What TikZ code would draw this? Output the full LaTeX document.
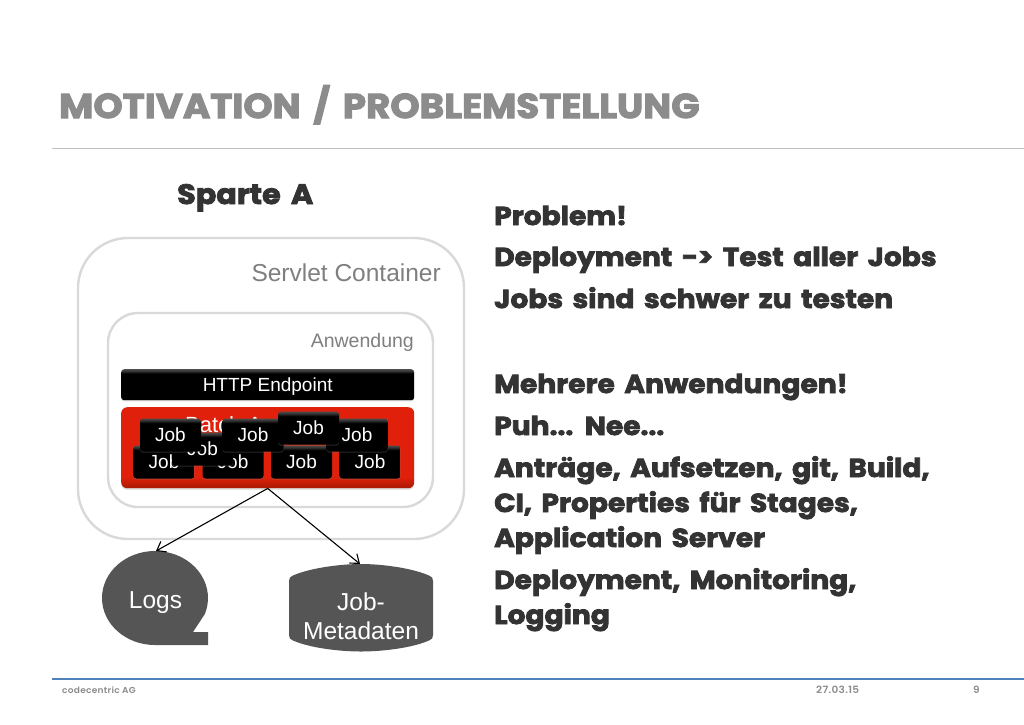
\documentclass[tikz,border=0pt]{standalone}
\usepackage{fontspec}
\setmainfont{Liberation Sans}
\newfontfamily\hd[BoldFont=*,FakeBold=3,FakeStretch=1.08,WordSpace=1.6]{Poppins Bold}
\newfontfamily\hdl[FakeStretch=1.05,LetterSpace=3]{Poppins SemiBold}
\usetikzlibrary{arrows.meta,shadows}
\definecolor{ttl}{HTML}{8C8C8C}
\definecolor{dk}{HTML}{333333}
\definecolor{rule}{HTML}{BFBFBF}
\definecolor{blueline}{HTML}{4F81BD}
\definecolor{cont}{HTML}{D9D9D9}
\definecolor{lbl}{HTML}{7F7F7F}
\definecolor{shape}{HTML}{555555}
\definecolor{redb}{HTML}{E0200A}
\definecolor{redd}{HTML}{A81A05}
\pgfdeclareverticalshading{gloss}{100bp}{color(0bp)=(black);color(25bp)=(black);color(68bp)=(black);color(72bp)=(black!80!white);color(75bp)=(black!70!white);color(100bp)=(black!70!white)}
\pgfdeclareverticalshading{glossred}{100bp}{color(0bp)=(redd);color(25bp)=(redd);color(32bp)=(redb);color(100bp)=(redb)}
\tikzset{
  x=1pt,y=-1pt,
  ttlt/.style={font=\hd\fontsize{34.5}{34}\selectfont,text=ttl,anchor=base west,inner sep=0pt},
  body/.style={font=\hd\fontsize{26}{35}\selectfont,text=dk,anchor=base west,inner sep=0pt,align=left},
  foot/.style={font=\hdl\fontsize{8.6}{10}\selectfont,text=ttl,anchor=west,inner sep=0pt},
  container/.style={draw=cont,line width=2.4pt,fill=white,anchor=north west,inner sep=0pt},
  blk/.style={shading=gloss,rounded corners=3pt,text=white,inner sep=0pt,drop shadow={opacity=.3,shadow xshift=0pt,shadow yshift=-1.2pt},
     font=\fontsize{19}{19}\selectfont,minimum height=33pt,minimum width=61pt,text height=13.5pt,text depth=0pt},
  conn/.style={draw=black,line width=1.1pt,-{Straight Barb[length=8pt,width=12pt]}},
  fillshape/.style={fill=shape,draw=none},
  whitet/.style={text=white,font=\fontsize{24.5}{29}\selectfont,align=center,inner sep=0pt,anchor=base},
}
\begin{document}
\begin{tikzpicture}
\useasboundingbox[fill=white] (0,0) rectangle (1024,724);
\node[ttlt] (title) at (59,118) {MOTIVATION / PROBLEMSTELLUNG};
\coordinate (ruleA) at (52,148); \coordinate (ruleB) at (1024,148);
\draw[rule,line width=1pt] (ruleA) -- (ruleB);
\coordinate (footA) at (52,679); \coordinate (footB) at (1024,679);
\draw[blueline,line width=1.3pt] (footA) -- (footB);
\node[foot] (co) at (62,690) {codecentric AG};
\node[foot,font=\hdl\fontsize{10}{10}\selectfont] (date) at (816,690) {27.03.15};
\node[foot,font=\hdl\fontsize{10}{10}\selectfont] (page) at (973,690) {9};
\node[body,font=\hd\fontsize{28}{35}\selectfont] (sparte) at (177,204) {Sparte A};
\node[body] (t1) at (494,225) {Problem!};
\node[body] (t2) at (494,266) {Deployment -> Test aller Jobs};
\node[body] (t3) at (494,308) {Jobs sind schwer zu testen};
\node[body] (t4) at (494,393) {Mehrere Anwendungen!};
\node[body] (t5) at (494,435) {Puh... Nee...};
\node[body] (t6) at (494,547) {Anträge, Aufsetzen, git, Build,\\CI, Properties für Stages,\\Application Server};
\node[body] (t7) at (494,624) {Deployment, Monitoring,\\Logging};
% containers
\draw[container,rounded corners=50pt] (78,238) rectangle (464,539);
\draw[container,rounded corners=30pt] (108,313) rectangle (433,507);
\node[text=lbl,anchor=base east,inner sep=0pt,font=\fontsize{24.5}{24}\selectfont] (sc) at (441,281) {Servlet Container};
\node[text=lbl,anchor=base east,inner sep=0pt,font=\fontsize{19.5}{19}\selectfont] (an) at (414,347) {Anwendung};
% endpoint
\node[blk,minimum width=293pt,minimum height=31pt,anchor=north west,text height=13.5pt] (http) at (121,369) {HTTP Endpoint};
% batch
\node[shading=glossred,rounded corners=6pt,minimum width=293pt,minimum height=81pt,anchor=north west,inner sep=0pt,drop shadow={opacity=.3,shadow xshift=0pt,shadow yshift=-1.5pt}] (batch) at (121,407) {};
\node[text=white,inner sep=0pt,font=\fontsize{22}{22}\selectfont,anchor=base west] (batcht) at (185,432) {Batch Anwendung};
% jobs
\node[blk] (j1) at (164,462) {Job};
\node[blk] (j2) at (233,462) {Job};
\node[blk] (j3) at (301.5,462) {Job};
\node[blk] (j4) at (370,462) {Job};
\node[blk] (j5) at (202.5,449) {Job};
\node[blk] (j6) at (170.5,435) {Job};
\node[blk] (j7) at (357,435) {Job};
\node[blk] (j8) at (253,435) {Job};
\node[blk] (j9) at (308.5,428) {Job};
% stores
\path[fillshape] (155,645) arc[start angle=90,end angle=270,x radius=53,y radius=47]
  arc[start angle=-90,end angle=20,x radius=53,y radius=47] -- (193,632) -- (208,632) -- (208,645) -- cycle;
\coordinate (logs) at (156,551);
\node[whitet] (logst) at (155.5,608) {Logs};
\path[fillshape] (293,575.5) .. controls (310,568) and (340,564) .. (361,564) .. controls (382,564) and (412,568) .. (429,575.5)
  .. controls (432,576.5) and (433,578) .. (433,581) -- (433,635) .. controls (433,638) and (432,639.5) .. (429,640.5)
  .. controls (412,648) and (382,651.5) .. (361,651.5) .. controls (340,651.5) and (310,648) .. (293,640.5)
  .. controls (290,639.5) and (289,638) .. (289,635) -- (289,581) .. controls (289,578) and (290,576.5) .. (293,575.5) -- cycle;
\coordinate (meta) at (360,564);
\node[whitet] (metat) at (361,639) {Job-\\Metadaten};
\draw[conn] (batch.south) -- (logs);
\draw[conn] (batch.south) -- (meta);
\end{tikzpicture}
\end{document}
